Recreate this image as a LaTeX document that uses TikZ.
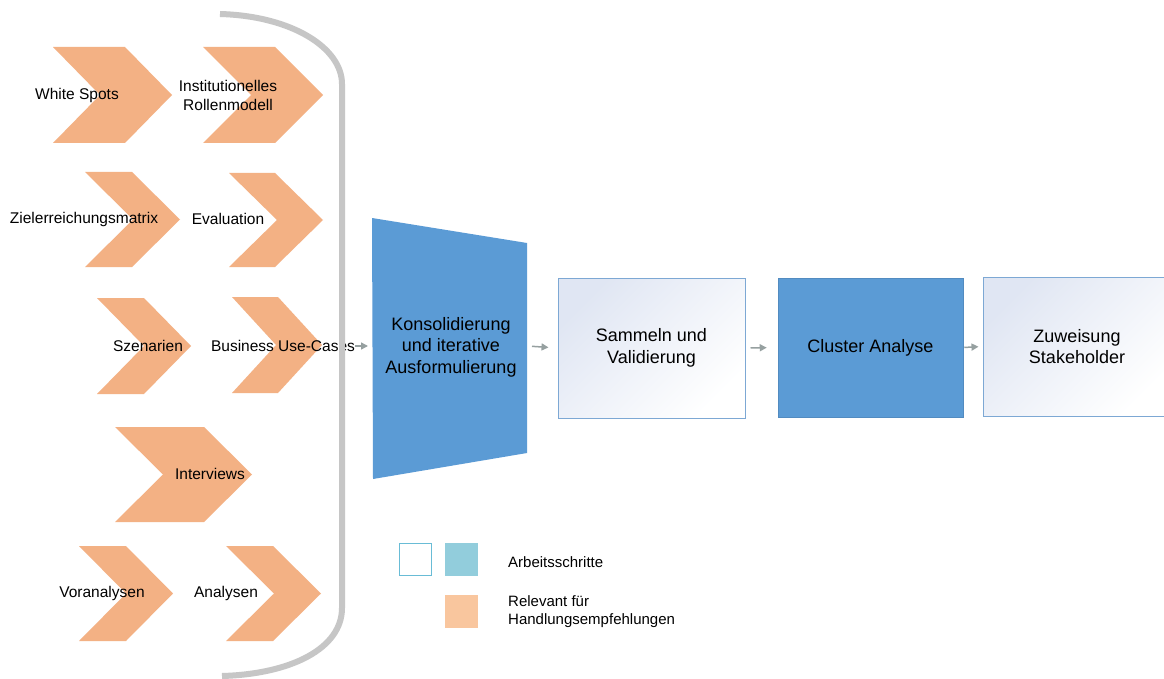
\documentclass[tikz,border=0pt]{standalone}
\usepackage{fontspec}
\setmainfont{Liberation Sans}
\usetikzlibrary{arrows.meta}

\definecolor{chevfill}{RGB}{243,177,132}
\definecolor{stepblue}{RGB}{91,155,213}
\definecolor{boxedge}{RGB}{125,168,212}
\definecolor{boxtint}{RGB}{224,230,243}
\definecolor{bracketgray}{RGB}{198,198,198}
\definecolor{arrowgray}{RGB}{150,160,160}
\definecolor{legteal}{RGB}{146,205,220}
\definecolor{legedge}{RGB}{105,188,214}
\definecolor{legorange}{RGB}{249,198,158}

% chevron: left x, top y, width, height, tip depth
\newcommand\chevshape[5]{%
  \fill[chevfill] (#1,#2) -- ({#1+#3-#5},#2) -- ({#1+#3},{#2+#4/2})
    -- ({#1+#3-#5},{#2+#4}) -- (#1,{#2+#4}) -- ({#1+#5},{#2+#4/2}) -- cycle;}

\tikzset{
  lbl/.style={font=\fontsize{15.5}{19}\selectfont, align=center, inner sep=0pt},
  steplbl/.style={font=\fontsize{18}{21.5}\selectfont, align=center, inner sep=0pt},
  bluestep/.style={rectangle, fill=stepblue, draw=stepblue!90!black, line width=0.5pt,
    font=\fontsize{18}{21.5}\selectfont, align=center},
  whitestep/.style={rectangle, draw=boxedge, line width=1pt, top color=boxtint,
    bottom color=white, shading angle=45,
    font=\fontsize{18}{21.5}\selectfont, align=center},
  flow/.style={draw=arrowgray, line width=1.5pt, -{Triangle[length=7pt,width=7pt]}},
  legtext/.style={font=\fontsize{15}{17.5}\selectfont, align=left, anchor=west, inner sep=0pt},
}

\begin{document}
\begin{tikzpicture}[x=1pt,y=-1pt]
\useasboundingbox (0,0) rectangle (1164,679);
\clip (0,0) rectangle (1164,679);
\fill[white] (0,0) rectangle (1164,679);

% input chevrons
\chevshape{53}{47}{119}{96}{47}
\chevshape{203}{47}{120}{96}{48}
\chevshape{85}{172}{95}{95}{48}
\chevshape{229}{173}{94}{94}{48}
\chevshape{97}{298}{94}{96}{47}
\chevshape{232}{297}{90}{96}{44}
\chevshape{115}{427}{137}{95}{48}
\chevshape{79}{546}{94}{95}{47}
\chevshape{226}{546}{95}{95}{48}

\node[lbl] (ws) at (77,95) {White Spots};
\node[lbl] (ir) at (228,95) {Institutionelles\\Rollenmodell};
\node[lbl] (zm) at (84,219) {Zielerreichungsmatrix};
\node[lbl] (ev) at (228,219) {Evaluation};
\node[lbl] (sz) at (148,346) {Szenarien};
\node[lbl] (bu) at (283,346) {Business Use-Cases};
\node[lbl] (iv) at (210,474) {Interviews};
\node[lbl] (va) at (102,593) {Voranalysen};
\node[lbl] (an) at (226,593) {Analysen};

% bracket grouping the inputs
\draw[bracketgray, line width=6pt]
  (220,14) .. controls (292,16) and (342,48) .. (342,84)
  -- (342,608) .. controls (342,648) and (292,674) .. (222,676);

% consolidation step (trapezoid)
\fill[stepblue] (372,218) -- (527,243) -- (527,453) -- (373,479) -- cycle;
\node[steplbl] (konso) at (451,347) {Konsolidierung\\und iterative\\Ausformulierung};
\coordinate (trapW) at (372,346);
\coordinate (trapE) at (527,346);

% process steps
\node[whitestep, minimum width=187pt, minimum height=140pt] (sam) at (651.5,348) {Sammeln und\\Validierung};
\node[bluestep, minimum width=185pt, minimum height=139pt] (clu) at (870.5,347.5) {Cluster Analyse};
\node[whitestep, minimum width=188pt, minimum height=139pt] (zuw) at (1077,346.5) {Zuweisung\\Stakeholder};

% connectors
\draw[flow, shorten >=4pt] (bu.east) -- (trapW);
\draw[flow, shorten <=5pt, shorten >=9pt] (trapE) -- (sam.west);
\draw[flow, shorten <=5pt, shorten >=11pt] (sam.east) -- (clu.west);
\draw[flow, shorten <=1pt, shorten >=4pt] (clu.east) -- (zuw.west);

% legend
\node[draw=legedge, line width=1pt, fill=white, minimum size=32pt, inner sep=0pt] (legw) at (415,559.5) {};
\node[fill=legteal, minimum size=33pt, inner sep=0pt] (legb) at (461.5,559.5) {};
\node[fill=legorange, minimum size=33pt, inner sep=0pt] (lego) at (461.5,611) {};
\node[legtext] (legtxt1) at (508,562) {Arbeitsschritte};
\node[legtext] (legtxt2) at (508,611.5) {Relevant für\\Handlungsempfehlungen};
\end{tikzpicture}
\end{document}
